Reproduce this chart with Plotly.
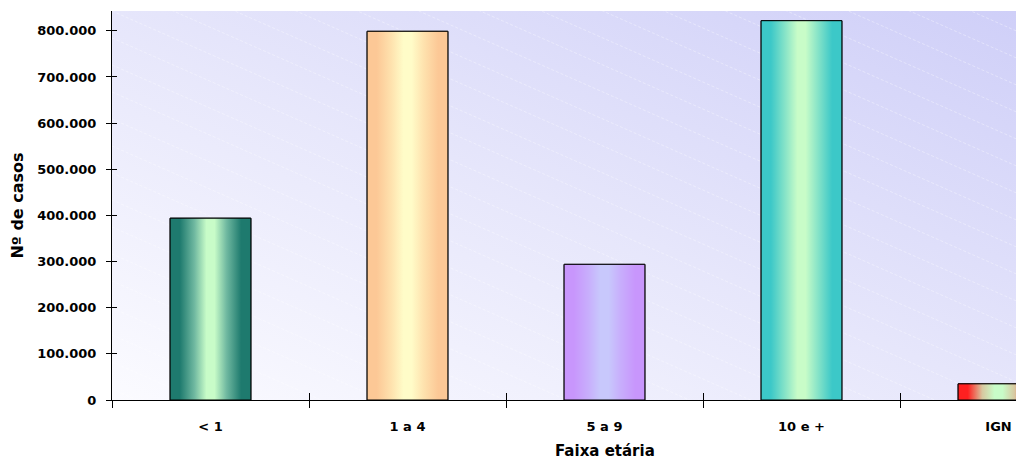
import base64
import plotly.graph_objects as go

# ---------------- data ----------------
categories = ["< 1", "1 a 4", "5 a 9", "10 e +", "IGN"]
cases = [394000, 799000, 294000, 822000, 35000]
y_tick_values = [0, 100000, 200000, 300000, 400000, 500000, 600000, 700000, 800000]
edge_colors = ["#1e7a6e", "#fcc896", "#c896fc", "#3cc8c8", "#ff2020"]
mid_colors = ["#c8fcc8", "#fffcc8", "#c8c8fc", "#c8fcc8", "#c8fcc8"]
shoulder_colors = ["#6fb8a0", "#fee2ae", "#c8aefc", "#88e4c8", "#d8c8a0"]
x_title = "Faixa etária"
y_title = "Nº de casos"

# ---------------- layout constants ----------------
W, H = 1016, 459
ML, MR, MT, MB = 112, 0, 11, 59
CAT_PX = 197.0            # pixel width of one category slot
BAR_W = 0.41              # bar width as fraction of slot
plot_w = W - ML - MR
plot_h = H - MT - MB
x_range = [-0.5, -0.5 + plot_w / CAT_PX]
y_range = [0, 843000]
positions = list(range(len(categories)))
boundaries = [p - 0.5 for p in positions] + [positions[-1] + 0.5]

# ---------------- background (gradient + faint diagonal streaks) ----------------
lines = []
for k in range(-20, 40):
    y0 = k * 27
    lines.append(f'<line x1="0" y1="{y0}" x2="{plot_w}" y2="{y0 + plot_w * 0.44:.1f}" '
                 f'stroke="white" stroke-opacity="0.35" stroke-width="1" stroke-dasharray="3,2"/>')
svg = f'''<svg xmlns="http://www.w3.org/2000/svg" width="{plot_w}" height="{plot_h}" viewBox="0 0 {plot_w} {plot_h}" preserveAspectRatio="none">
<defs><linearGradient id="g" x1="0" y1="1" x2="1" y2="0">
<stop offset="0" stop-color="#fbfbff"/><stop offset="0.5" stop-color="#e6e6fb"/><stop offset="1" stop-color="#cfcff8"/>
</linearGradient></defs>
<rect x="0" y="0" width="{plot_w}" height="{plot_h}" fill="url(#g)"/>
{''.join(lines)}
</svg>'''
bg_src = "data:image/svg+xml;base64," + base64.b64encode(svg.encode()).decode()

fig = go.Figure()

# base bars (solid edge colour, black outline)
fig.add_trace(go.Bar(
    x=positions, y=cases, width=BAR_W,
    marker=dict(color=edge_colors, line=dict(color="black", width=1)),
    showlegend=False, hoverinfo="skip",
))

# gradient overlays for each bar
for p, v, ec, sc, mc in zip(positions, cases, edge_colors, shoulder_colors, mid_colors):
    x0, x1 = p - BAR_W / 2, p + BAR_W / 2
    fig.add_trace(go.Scatter(
        x=[x0, x0, x1, x1, x0], y=[0, v, v, 0, 0],
        mode="lines", fill="toself",
        line=dict(color="black", width=1),
        fillgradient=dict(type="horizontal",
                          colorscale=[[0, ec], [0.12, ec], [0.3, sc], [0.45, mc], [0.55, mc],
                                      [0.7, sc], [0.88, ec], [1, ec]]),
        showlegend=False, hoverinfo="skip",
    ))

# dummy trace for overlay axes (inside tick halves)
fig.add_trace(go.Scatter(x=[None], y=[None], xaxis="x2", yaxis="y2",
                         showlegend=False, hoverinfo="skip"))

font_family = "DejaVu Sans"
title_font = dict(family=font_family, size=15, color="black", weight="bold")
fig.update_layout(
    width=W, height=H,
    margin=dict(l=ML, r=MR, t=MT, b=MB),
    paper_bgcolor="white",
    plot_bgcolor="rgba(0,0,0,0)",
    separators=",.",
    images=[dict(source=bg_src, xref="paper", yref="paper", x=0, y=1,
                 sizex=1, sizey=1, sizing="stretch", layer="below")],
    xaxis=dict(
        range=x_range, tickmode="array", tickvals=positions, ticktext=categories,
        ticks="", showgrid=False, zeroline=False,
        showline=True, linecolor="black", linewidth=1,
        tickfont=dict(family=font_family, size=13, color="black", weight="bold"),
        ticklabelstandoff=14,
        minor=dict(tickmode="array", tickvals=boundaries, ticks="outside",
                   ticklen=7, tickcolor="black", tickwidth=1, showgrid=False),
    ),
    yaxis=dict(
        range=y_range, tickmode="array", tickvals=y_tick_values, tickformat=",d",
        ticks="outside", ticklen=5, tickcolor="black", tickwidth=1,
        showgrid=False, zeroline=False,
        showline=True, linecolor="black", linewidth=1,
        tickfont=dict(family=font_family, size=13, color="black", weight="bold"),
        ticklabelstandoff=7,
        title=dict(text=y_title, standoff=9,
                   font=dict(family=font_family, size=16, color="black", weight="bold")),
    ),
    xaxis2=dict(range=x_range, overlaying="x", anchor="y2", side="bottom",
                tickmode="array", tickvals=boundaries, ticks="inside", ticklen=7,
                tickcolor="black", showticklabels=False, showgrid=False,
                zeroline=False, showline=False),
    yaxis2=dict(range=y_range, overlaying="y", anchor="x2", side="left",
                tickmode="array", tickvals=y_tick_values, ticks="inside", ticklen=5,
                tickcolor="black", showticklabels=False, showgrid=False,
                zeroline=False, showline=False),
    annotations=[dict(text=x_title, xref="x", yref="paper",
                      x=positions[len(positions) // 2], y=0, yshift=-51,
                      xanchor="center", yanchor="middle", showarrow=False,
                      font=title_font)],
)

fig.write_html("out.html")
